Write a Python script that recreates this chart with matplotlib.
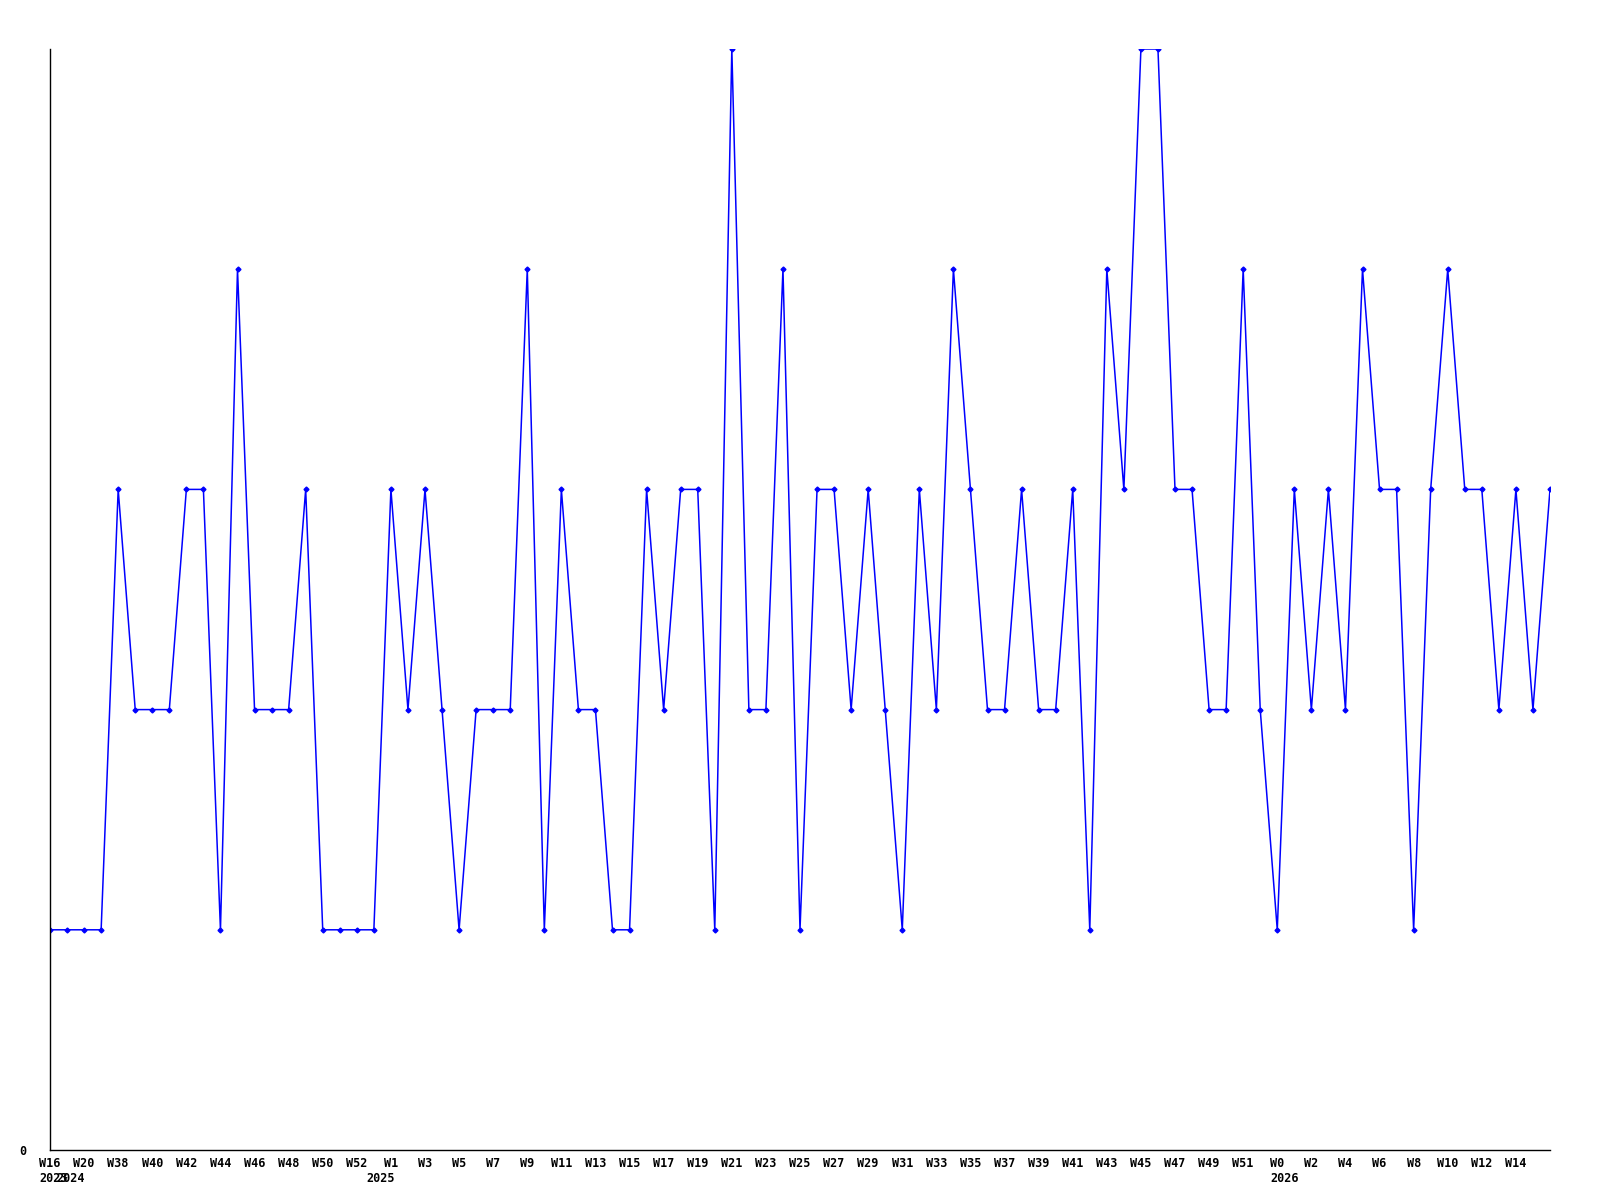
import matplotlib
matplotlib.use("Agg")
import matplotlib.pyplot as plt

weeks = [
    "W16",
    "W19", "W20", "W37",
    "W38", "W39", "W40", "W41", "W42", "W43", "W44", "W45", "W46", "W47", "W48", "W49", "W50", "W51", "W52",
    "W0", "W1", "W2", "W3", "W4", "W5", "W6", "W7", "W8", "W9", "W10", "W11", "W12", "W13", "W14", "W15",
    "W16", "W17", "W18", "W19", "W20", "W21", "W22", "W23", "W24", "W25", "W26", "W27", "W28", "W29", "W30",
    "W31", "W32", "W33", "W34", "W35", "W36", "W37", "W38", "W39", "W40", "W41", "W42", "W43", "W44", "W45",
    "W46", "W47", "W48", "W49", "W50", "W51", "W52",
    "W0", "W1", "W2", "W3", "W4", "W5", "W6", "W7", "W8", "W9", "W10", "W11", "W12", "W13", "W14", "W15", "W16",
]
years = (["2023"] + ["2024"] * 18 + ["2025"] * 53 + ["2026"] * 17)

values = [
    1, 1, 1, 1, 3, 2, 2, 2, 3, 3,
    1, 4, 2, 2, 2, 3, 1, 1, 1, 1,
    3, 2, 3, 2, 1, 2, 2, 2, 4, 1,
    3, 2, 2, 1, 1, 3, 2, 3, 3, 1,
    5, 2, 2, 4, 1, 3, 3, 2, 3, 2,
    1, 3, 2, 4, 3, 2, 2, 3, 2, 2,
    3, 1, 4, 3, 5, 5, 3, 3, 2, 2,
    4, 2, 1, 3, 2, 3, 2, 4, 3, 3,
    1, 3, 4, 3, 3, 2, 3, 2, 3,
]

FONT = dict(family="DejaVu Sans Mono", weight="bold", size=8.5)

fig = plt.figure(figsize=(16, 12), dpi=100)
ax = fig.add_axes([50 / 1600, 50 / 1200, 1500 / 1600, 1101 / 1200])

x = list(range(len(values)))
ax.plot(x, values, color="#0000ff", linewidth=1.1, marker="D", markersize=2.5,
        markerfacecolor="#0000ff", markeredgecolor="#0000ff")

ax.set_xlim(0, len(values) - 1)
ax.set_ylim(0, 5)

for s in ["top", "right"]:
    ax.spines[s].set_visible(False)
for s in ["left", "bottom"]:
    ax.spines[s].set_color("black")
    ax.spines[s].set_linewidth(1.0)

# week labels on every other point, the last point left unlabelled
tick_idx = x[:-1:2]
ax.set_xticks(tick_idx)
ax.set_xticklabels([weeks[i] for i in tick_idx], fontdict=FONT)
ax.tick_params(axis="x", length=0, pad=5)
ax.set_yticks([0])
ax.set_yticklabels(["0"], fontdict=FONT)
ax.tick_params(axis="y", length=0, pad=17)

# year labels, left-aligned with the label of the first week of each year
prev = None
for i, yr in enumerate(years):
    if yr != prev:
        off = -len(weeks[i]) * 0.602 * FONT["size"] / 2
        ax.annotate(yr, xy=(i, 0), xycoords=("data", "axes fraction"),
                    xytext=(off, -16), textcoords="offset points",
                    ha="left", va="top", **FONT)
        prev = yr

fig.savefig("out.png", dpi=100)
